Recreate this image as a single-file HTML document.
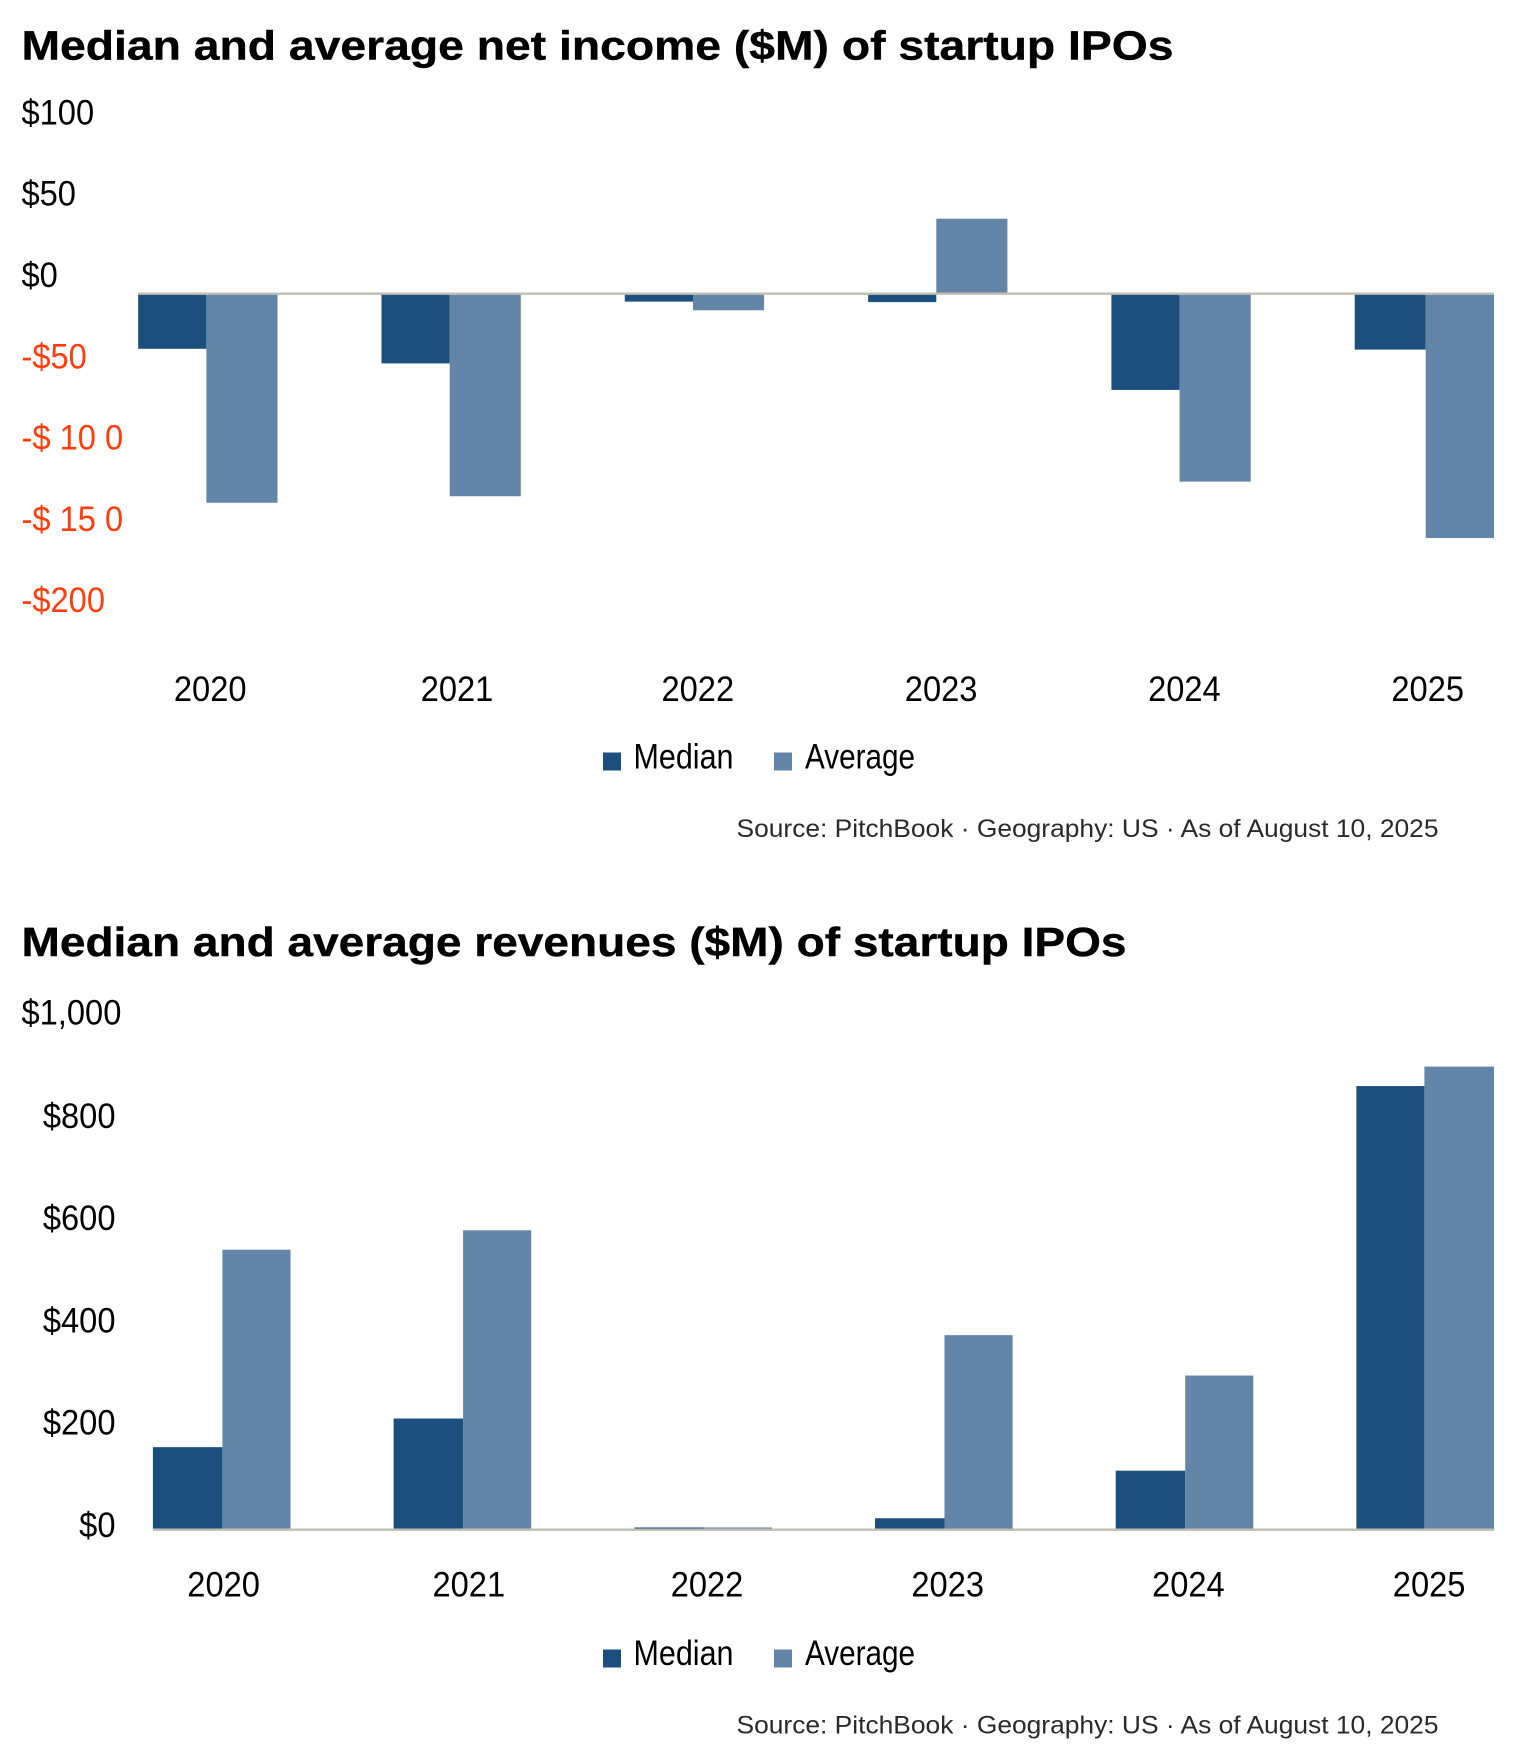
<!DOCTYPE html>
<html lang="en">
<head>
<meta charset="utf-8">
<title>Median and average net income and revenues of startup IPOs</title>
<style>
  html, body { margin: 0; padding: 0; background: #ffffff; }
  svg { display: block; font-family: "Liberation Sans", sans-serif; }
  .title { font-weight: 700; font-size: 41px; fill: #000000; stroke: #000000; stroke-width: 0.4px; }
  .tick, .cat, .legend-text { font-size: 35.5px; fill: #000000; }
  .source { font-size: 25px; fill: #2a2a2a; }
</style>
</head>
<body>
<svg id="page" xmlns="http://www.w3.org/2000/svg" width="1519" height="1753" viewBox="0 0 1519 1753">
  <rect x="0" y="0" width="1519" height="1753" fill="#ffffff"/>

  <text class="title" x="21.5" y="59.5" textLength="1152" lengthAdjust="spacingAndGlyphs">Median and average net income ($M) of startup IPOs</text>
  <g id="net-income-chart"></g>
  <g>
    <rect x="603" y="752.5" width="18" height="18" fill="#1d4f7e"/>
    <text class="legend-text" x="633.5" y="768.5" textLength="100" lengthAdjust="spacingAndGlyphs">Median</text>
    <rect x="774" y="752.5" width="18" height="18" fill="#6285a8"/>
    <text class="legend-text" x="805" y="768.5" textLength="110" lengthAdjust="spacingAndGlyphs">Average</text>
  </g>
  <text class="source" x="736.5" y="836.8" textLength="702" lengthAdjust="spacingAndGlyphs">Source: PitchBook · Geography: US · As of August 10, 2025</text>

  <text class="title" x="21.5" y="956" textLength="1105" lengthAdjust="spacingAndGlyphs">Median and average revenues ($M) of startup IPOs</text>
  <g id="revenue-chart"></g>
  <g>
    <rect x="603" y="1649.5" width="18" height="18" fill="#1d4f7e"/>
    <text class="legend-text" x="633.5" y="1665" textLength="100" lengthAdjust="spacingAndGlyphs">Median</text>
    <rect x="774" y="1649.5" width="18" height="18" fill="#6285a8"/>
    <text class="legend-text" x="805" y="1665" textLength="110" lengthAdjust="spacingAndGlyphs">Average</text>
  </g>
  <text class="source" x="736.5" y="1733.5" textLength="702" lengthAdjust="spacingAndGlyphs">Source: PitchBook · Geography: US · As of August 10, 2025</text>
</svg>

<script>
const categories = ['2020', '2021', '2022', '2023', '2024', '2025'];

const netIncomeMedian = [-34, -43, -5, -5.3, -59.3, -34.5];
const netIncomeAverage = [-128.7, -124.7, -10.3, 46, -115.7, -150.4];
const netIncomeTicks = [100, 50, 0, -50, -100, -150, -200];
const netIncomeTickLabels = ['$100', '$50', '$0', '-$50', '-$ 10 0', '-$ 15 0', '-$200'];

const revenueMedian = [161, 217, 4, 22, 115, 867];
const revenueAverage = [547, 585, 4, 380, 301, 905];
const revenueTicks = [1000, 800, 600, 400, 200, 0];
const revenueTickLabels = ['$1,000', '$800', '$600', '$400', '$200', '$0'];

const SVG_NS = 'http://www.w3.org/2000/svg';
const MEDIAN_COLOR = '#1d4f7e';
const AVERAGE_COLOR = '#6285a8';
const AXIS_COLOR = '#c0bdb4';
const NEGATIVE_COLOR = '#ff3d0a';
const TEXT_SQUEEZE = 0.92;

function addText(parent, className, content, x, y, anchor, fill) {
  const el = document.createElementNS(SVG_NS, 'text');
  el.setAttribute('class', className);
  el.setAttribute('transform', 'translate(' + x + ',' + y + ') scale(' + TEXT_SQUEEZE + ',1)');
  el.setAttribute('text-anchor', anchor);
  if (fill) el.setAttribute('fill', fill);
  if (fill) el.style.fill = fill;
  el.textContent = content;
  parent.appendChild(el);
  return el;
}

function addBar(parent, x, width, y1, y2, fill) {
  const el = document.createElementNS(SVG_NS, 'rect');
  el.setAttribute('x', x);
  el.setAttribute('width', width);
  el.setAttribute('y', Math.min(y1, y2));
  el.setAttribute('height', Math.abs(y2 - y1));
  el.setAttribute('fill', fill);
  parent.appendChild(el);
  return el;
}

function drawChart(rootId, prefix, median, average, ticks, tickLabels, layout) {
  const root = document.getElementById(rootId);
  const yScale = function (v) { return layout.zeroY - v * layout.pxPerUnit; };
  const groupLeft = function (i) { return layout.firstX + i * layout.step; };

  ticks.forEach(function (tick, i) {
    const label = tickLabels[i];
    const wide = layout.rightAlign && label.length > 4;
    const anchor = layout.rightAlign && !wide ? 'end' : 'start';
    const x = layout.rightAlign && !wide ? layout.tickRight : 21.5;
    const fill = tick < 0 ? NEGATIVE_COLOR : null;
    const dy = wide ? layout.tickDy - 1 : layout.tickDy;
    const el = addText(root, 'tick', label, x, yScale(tick) + dy, anchor, fill);
    
    
  });

  categories.forEach(function (cat, i) {
    const left = groupLeft(i);
    const isLast = i === categories.length - 1;
    const medianWidth = isLast ? layout.lastMedianWidth : layout.medianWidth;
    const split = left + medianWidth;
    const right = left + layout.groupWidth;

    const medianBar = addBar(root, left, medianWidth, yScale(0), yScale(median[i]), MEDIAN_COLOR);
    
    

    const averageBar = addBar(root, split, right - split, yScale(0), yScale(average[i]), AVERAGE_COLOR);
    
    

    const labelX = left + layout.labelDx + (i === 0 ? layout.firstLabelNudge : 0) + (i === 1 ? layout.secondLabelNudge : 0);
    const label = addText(root, 'cat', cat, labelX, layout.labelY, 'middle', null);
    
    
  });

  const axis = document.createElementNS(SVG_NS, 'rect');
  axis.setAttribute('x', layout.firstX);
  axis.setAttribute('y', layout.zeroY - 1);
  axis.setAttribute('width', groupLeft(categories.length - 1) + layout.groupWidth - layout.firstX);
  axis.setAttribute('height', 2.4);
  axis.setAttribute('fill', AXIS_COLOR);
  
  
  root.appendChild(axis);
}

drawChart('net-income-chart', 'net-income', netIncomeMedian, netIncomeAverage, netIncomeTicks, netIncomeTickLabels, {
  zeroY: 293.5, pxPerUnit: 1.626, firstX: 138.2, step: 243.3,
  medianWidth: 68.2, lastMedianWidth: 71, groupWidth: 139.3,
  labelDx: 73, firstLabelNudge: -1, secondLabelNudge: 2.5,
  labelY: 701, tickDy: -6.5, rightAlign: false, tickRight: 0
});

drawChart('revenue-chart', 'revenue', revenueMedian, revenueAverage, revenueTicks, revenueTickLabels, {
  zeroY: 1529.5, pxPerUnit: 0.5115, firstX: 152.9, step: 240.7,
  medianWidth: 69.5, lastMedianWidth: 68, groupWidth: 137.6,
  labelDx: 72.7, firstLabelNudge: -2, secondLabelNudge: 2.5,
  labelY: 1596.5, tickDy: 7.5, rightAlign: true, tickRight: 115.5
});
</script>
</body>
</html>
